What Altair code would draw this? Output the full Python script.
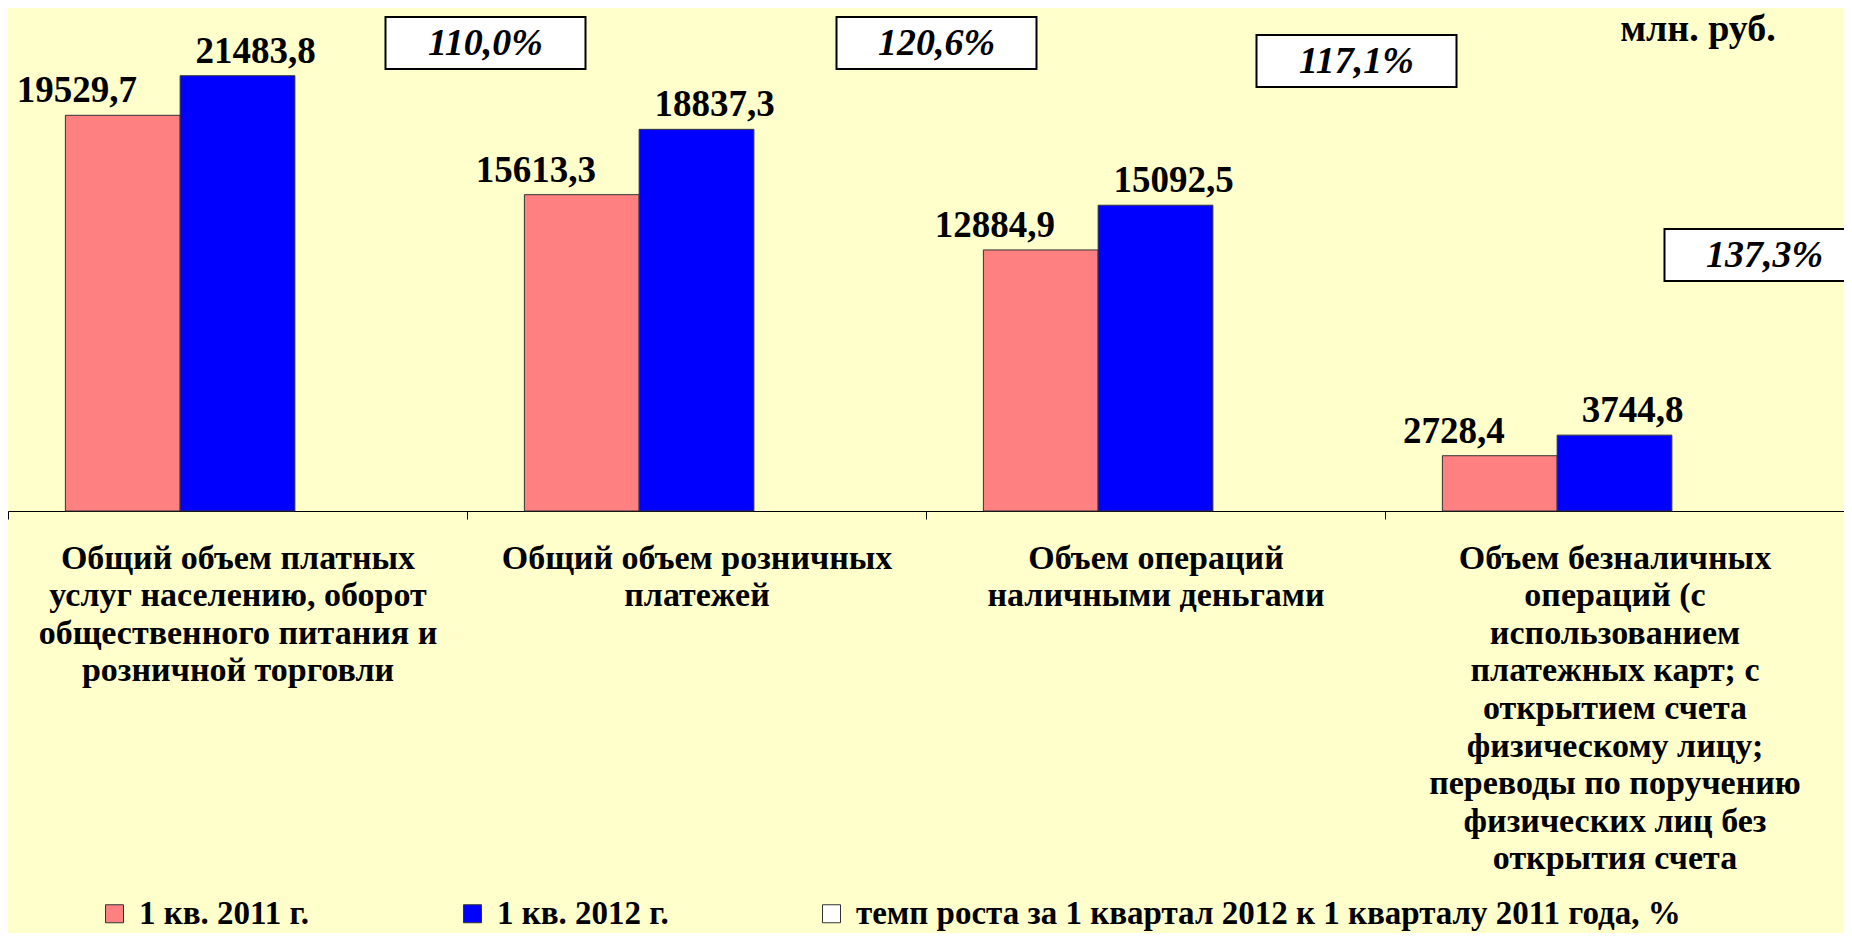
import altair as alt
import pandas as pd

# ---- data ----
categories = [
    "Общий объем платных|услуг населению, оборот|общественного питания  и|розничной торговли",
    "Общий объем розничных|платежей",
    "Объем операций|наличными деньгами",
    "Объем безналичных|операций (с|использованием|платежных карт; с|открытием счета|физическому лицу;|переводы по поручению|физических лиц без|открытия счета",
]
series = ["1 кв. 2011 г.", "1 кв. 2012 г.", "темп роста за 1 квартал 2012 к 1 кварталу 2011 года, %"]
values_2011 = [19529.7, 15613.3, 12884.9, 2728.4]
values_2012 = [21483.8, 18837.3, 15092.5, 3744.8]
growth_pct = [110.0, 120.6, 117.1, 137.3]
unit_label = "млн. руб."

# ---- styles ----
BG = "#FFFFCC"
PINK = "#FF8080"
BLUE = "#0000FF"
FONT = "Liberation Serif"
W, H = 1836, 503
PAD_BOTTOM = 422
YMAX = 24827
P_INNER, P_OUTER = 0.25, 0.125
HALF_GAP = (W / 4) * P_INNER / 2
box_dx = [248, 240, 201, 150]
box_y = [35, 35, 53, 247]

def fmt(v, pct=False):
    s = f"{v:.1f}".replace(".", ",")
    return s + "%" if pct else s

rows = []
for c, a, b in zip(categories, values_2011, values_2012):
    rows.append({"cat": c, "series": series[0], "value": a, "label": fmt(a)})
    rows.append({"cat": c, "series": series[1], "value": b, "label": fmt(b)})
df = pd.DataFrame(rows)

x_enc = alt.X(
    "cat:N",
    sort=categories,
    scale=alt.Scale(domain=categories, paddingInner=P_INNER, paddingOuter=P_OUTER),
    axis=alt.Axis(
        title=None,
        bandPosition=0,
        tickOffset=-HALF_GAP,
        labelOffset=HALF_GAP,
        labelExpr="split(datum.label, '|')",
        labelAngle=0,
        labelFont=FONT,
        labelFontWeight="bold",
        labelFontSize=34,
        labelLineHeight=37.6,
        labelColor="#000000",
        labelBaseline="top",
        labelPadding=22,
        labelLimit=0,
        tickSize=8,
        tickColor="#000000",
        domainColor="#000000",
        domainWidth=1.2,
        grid=False,
    ),
)
xoff = alt.XOffset("series:N", scale=alt.Scale(domain=series, paddingInner=0, paddingOuter=0))
y_enc = alt.Y("value:Q", scale=alt.Scale(domain=[0, YMAX], nice=False, zero=True), axis=None)

bars = alt.Chart(df).mark_bar(stroke="#333333", strokeWidth=1).encode(
    x=x_enc,
    xOffset=xoff,
    y=y_enc,
    color=alt.Color(
        "series:N",
        scale=alt.Scale(domain=series, range=[PINK, BLUE, "#FFFFFF"]),
        legend=alt.Legend(
            title=None,
            orient="none",
            legendX=90,
            legendY=889,
            direction="horizontal",
            columns=3,
            columnPadding=146,
            symbolType="square",
            symbolSize=324,
            symbolStrokeColor="#333333",
            symbolStrokeWidth=1,
            labelFont=FONT,
            labelFontWeight="bold",
            labelFontSize=33,
            labelColor="#000000",
            labelLimit=0,
            labelOffset=8,
        ),
    ),
)

def value_text(s, dx):
    return alt.Chart(df).transform_filter(alt.datum.series == s).mark_text(
        font=FONT, fontWeight="bold", fontSize=37, color="#000000",
        baseline="alphabetic", dy=-13, dx=dx,
    ).encode(x=x_enc, xOffset=xoff, y=y_enc, text="label:N")

lbl_2011 = value_text(series[0], -46)
lbl_2012 = value_text(series[1], 18)

rate_df = pd.DataFrame({"cat": categories, "label": [fmt(g, True) for g in growth_pct]})
rate_layers = []
for i, c in enumerate(categories):
    base = alt.Chart(rate_df).transform_filter(alt.datum.cat == c)
    box = base.mark_point(
        shape="M-1,-0.26H1V0.26H-1Z", size=200 ** 2, filled=True,
        fill="#FFFFFF", stroke="#000000", strokeWidth=2, opacity=1, xOffset=box_dx[i],
    ).encode(x=x_enc, y=alt.value(box_y[i]))
    txt = base.mark_text(
        font=FONT, fontWeight="bold", fontStyle="italic", fontSize=38, color="#000000",
        baseline="middle", dx=box_dx[i], dy=1,
    ).encode(x=x_enc, y=alt.value(box_y[i]), text="label:N")
    rate_layers += [box, txt]

unit = alt.Chart(pd.DataFrame({"t": [unit_label]})).mark_text(
    font=FONT, fontWeight="bold", fontSize=38, color="#000000", baseline="middle",
).encode(x=alt.value(1690), y=alt.value(22), text="t:N")

chart = alt.layer(bars, lbl_2011, lbl_2012, *rate_layers, unit).properties(
    width=W, height=H,
    background=BG,
    padding={"left": 0, "top": 0, "right": 0, "bottom": PAD_BOTTOM},
    autosize=alt.AutoSizeParams(type="none"),
).configure_view(strokeWidth=0)

chart.save("out.html", embed_options={"renderer": "svg", "actions": False})
